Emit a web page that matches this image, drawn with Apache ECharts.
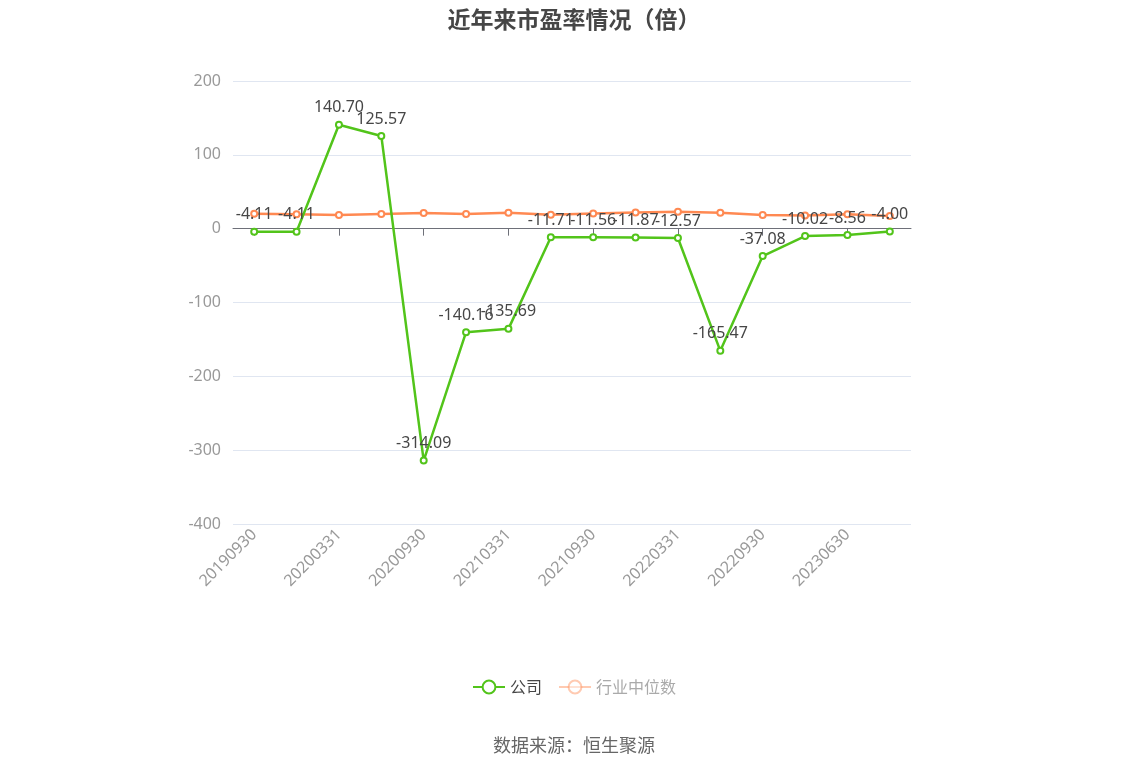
<!DOCTYPE html>
<html>
<head>
<meta charset="utf-8">
<script src="https://cdn.jsdelivr.net/npm/echarts@6/dist/echarts.min.js"></script>
<style>
  html, body { margin: 0; padding: 0; background: #fff; }
  #chart { width: 1148px; height: 776px; }
</style>
</head>
<body>
<div id="chart"></div>
<script>
const dates = ['20190930', '20191231', '20200331', '20200630', '20200930', '20201231',
  '20210331', '20210630', '20210930', '20211231', '20220331', '20220630',
  '20220930', '20230331', '20230630', '20230930'];
const companyPE = [-4.11, -4.11, 140.70, 125.57, -314.09, -140.16, -135.69, -11.71,
  -11.56, -11.87, -12.57, -165.47, -37.08, -10.02, -8.56, -4.00];
const industryPE = [20.3, 19.6, 18.6, 20.0, 21.2, 20.0, 21.6, 18.8,
  20.4, 21.8, 22.8, 21.4, 18.6, 18.0, 19.4, 17.2];

const chart = echarts.init(document.getElementById('chart'));

const option = {
  title: {
    text: '近年来市盈率情况（倍）',
    left: 'center',
    top: 3,
    textStyle: { fontSize: 23, fontWeight: 'bold', color: '#464646', fontFamily: 'Noto Sans CJK SC' }
  },
  legend: {
    top: 674,
    left: 'center',
    itemWidth: 32,
    itemHeight: 16,
    itemGap: 16,
    textStyle: { fontSize: 16, color: '#464646', fontFamily: 'Noto Sans CJK SC' },
    data: [
      { name: '公司' },
      { name: '行业中位数', itemStyle: { opacity: 0.45 }, lineStyle: { opacity: 0.45 }, textStyle: { color: '#aaa' } }
    ]
  },
  graphic: [{
    type: 'text',
    left: 'center',
    top: 736,
    style: { text: '数据来源：恒生聚源', fontSize: 18, fill: '#666', fontFamily: 'Noto Sans CJK SC' }
  }],
  grid: { left: 233, right: 237, top: 81, bottom: 252, outerBoundsMode: 'none' },
  xAxis: [
    {
      type: 'category',
      data: dates,
      boundaryGap: true,
      position: 'bottom',
      axisLine: { onZero: false, show: false },
      axisTick: { show: false },
      axisLabel: { interval: 1, rotate: 45, color: '#999', fontSize: 16, margin: 8, fontFamily: 'Noto Sans' }
    },
    {
      type: 'category',
      data: dates,
      boundaryGap: true,
      position: 'bottom',
      axisLine: { onZero: true, lineStyle: { color: '#6E7079' } },
      axisTick: { show: true, alignWithLabel: true, interval: 1, length: 7, lineStyle: { color: '#6E7079', width: 1 } },
      axisLabel: { show: true, interval: 1, color: 'rgba(0,0,0,0)', fontSize: 1 }
    }
  ],
  yAxis: {
    type: 'value',
    min: -400,
    max: 200,
    interval: 100,
    axisLine: { show: false },
    axisTick: { show: false },
    axisLabel: { color: '#999', fontSize: 16, margin: 12, fontFamily: 'Noto Sans' },
    splitLine: { lineStyle: { color: '#E0E6F1' } }
  },
  series: [
    {
      name: '公司',
      type: 'line',
      data: companyPE,
      symbol: 'emptyCircle',
      symbolSize: 6,
      color: '#52C41A',
      lineStyle: { width: 2.5 },
      itemStyle: { borderWidth: 2 },
      label: {
        show: true,
        position: 'top',
        color: '#464646',
        fontSize: 16,
        fontFamily: 'Noto Sans',
        formatter: p => p.value.toFixed(2)
      },
      z: 3
    },
    {
      name: '行业中位数',
      type: 'line',
      data: industryPE,
      symbol: 'emptyCircle',
      symbolSize: 6,
      color: '#FF8952',
      lineStyle: { width: 2.5 },
      itemStyle: { borderWidth: 2 },
      z: 2
    }
  ]
};

chart.setOption(option);
</script>
</body>
</html>
